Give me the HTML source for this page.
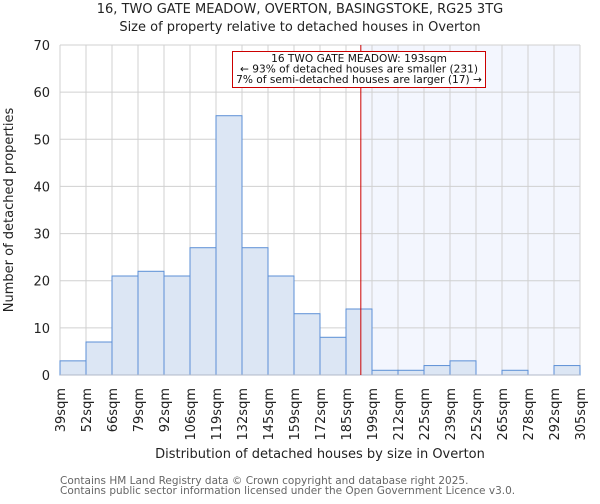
<!DOCTYPE html>
<html><head><meta charset="utf-8"><style>
body{margin:0;background:#fff;font-family:"DejaVu Sans","Liberation Sans",sans-serif;}
svg text{font-family:"DejaVu Sans","Liberation Sans",sans-serif;}
</style></head><body>
<svg id="chart" width="600" height="500" xmlns="http://www.w3.org/2000/svg"></svg>
<script>
const binLabels=["39sqm","52sqm","66sqm","79sqm","92sqm","106sqm","119sqm","132sqm","145sqm","159sqm","172sqm","185sqm","199sqm","212sqm","225sqm","239sqm","252sqm","265sqm","278sqm","292sqm","305sqm"];
const counts=[3,7,21,22,21,27,55,27,21,13,8,14,1,1,2,3,0,1,0,2];
const yTicks=[0,10,20,30,40,50,60,70];
const markerBin=11.57;
const NS="http://www.w3.org/2000/svg";
const svg=document.getElementById('chart');
const L=60,R=580,T=45,B=375,yMax=70;
const n=counts.length;
const x=i=>L+(R-L)*i/n;
const y=v=>B-(B-T)*v/yMax;
function el(tag,attrs,txt){const e=document.createElementNS(NS,tag);for(const k in attrs)e.setAttribute(k,attrs[k]);if(txt!==undefined)e.textContent=txt;svg.appendChild(e);return e;}
const mx=x(markerBin);
let e=el('rect',{x:mx,y:T,width:R-mx,height:B-T,fill:'#f3f6fe'});


for(let i=0;i<=n;i++){e=el('line',{x1:x(i),x2:x(i),y1:T,y2:B,stroke:'#d0d0d0'});

}
yTicks.forEach(t=>{e=el('line',{x1:L,x2:R,y1:y(t),y2:y(t),stroke:'#d0d0d0'});


e=el('text',{x:L-10,y:y(t)+5,'text-anchor':'end','font-size':13,fill:'#222'},t);

});
counts.forEach((c,i)=>{if(c<=0)return;e=el('rect',{x:x(i),y:y(c),width:x(i+1)-x(i),height:B-y(c),fill:'#dce6f4',stroke:'#5b8fd6','stroke-width':1});

});
e=el('line',{x1:L,x2:R,y1:B,y2:B,stroke:'#b0b8c8'});


binLabels.forEach((lb,i)=>{const tx=x(i)+5;e=el('text',{x:tx,y:B+13,'text-anchor':'end','font-size':13,fill:'#222',transform:`rotate(-90 ${tx} ${B+13})`},lb);

});
e=el('line',{x1:mx,x2:mx,y1:T,y2:B,stroke:'#cc0000','stroke-width':1});


e=el('rect',{x:232.5,y:51.5,width:253,height:36,fill:'#fff',stroke:'#cc0000','stroke-width':1});


[["16 TWO GATE MEADOW: 193sqm",62],["← 93% of detached houses are smaller (231)",72.5],["7% of semi-detached houses are larger (17) →",83]].forEach(a=>{e=el('text',{x:359,y:a[1],'text-anchor':'middle','font-size':10.6,fill:'#111'},a[0]);

});
e=el('text',{x:300,y:13,'text-anchor':'middle','font-size':13,fill:'#222'},"16, TWO GATE MEADOW, OVERTON, BASINGSTOKE, RG25 3TG");


e=el('text',{x:300,y:31,'text-anchor':'middle','font-size':13,fill:'#222'},"Size of property relative to detached houses in Overton");


e=el('text',{x:13,y:210,'text-anchor':'middle','font-size':13,fill:'#222',transform:'rotate(-90 13 210)'},"Number of detached properties");


e=el('text',{x:320,y:458,'text-anchor':'middle','font-size':13,fill:'#222'},"Distribution of detached houses by size in Overton");


e=el('text',{x:60,y:484,'font-size':10.5,fill:'#666'},"Contains HM Land Registry data © Crown copyright and database right 2025.");


e=el('text',{x:60,y:494,'font-size':10.5,fill:'#666'},"Contains public sector information licensed under the Open Government Licence v3.0.");


</script>
</body></html>
